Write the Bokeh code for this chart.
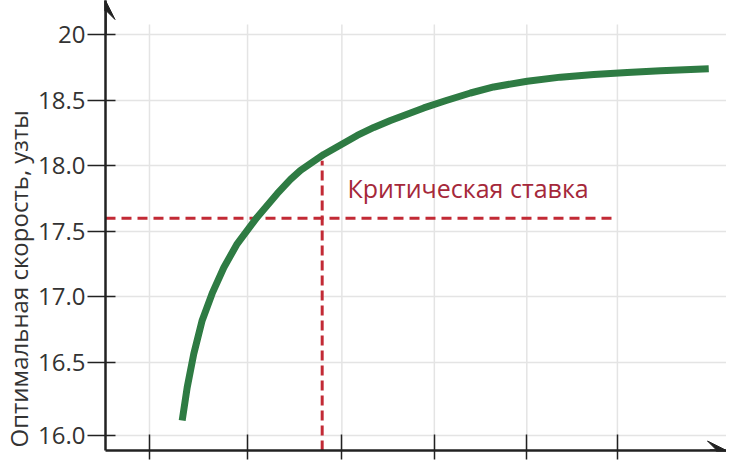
from bokeh.plotting import figure
from bokeh.models import Range1d, FixedTicker, Arrow, VeeHead, Label, Title
from bokeh.embed import file_html
from bokeh.resources import INLINE

# ---- data ----
speed_x = [1.350, 1.404, 1.474, 1.564, 1.671, 1.796, 1.939, 2.153, 2.367, 2.510, 2.617, 2.866,
           3.045, 3.224, 3.402, 3.580, 3.759, 3.937, 4.169, 4.437, 4.686, 5.044, 5.400, 5.757,
           6.115, 6.471, 6.988]
speed_y = [16.057, 16.311, 16.566, 16.821, 17.027, 17.225, 17.406, 17.609, 17.788, 17.897, 17.966, 18.088,
           18.160, 18.233, 18.294, 18.347, 18.395, 18.443, 18.498, 18.557, 18.603, 18.647, 18.678, 18.698,
           18.714, 18.727, 18.742]

y_ticks = [15.94, 16.5, 17.0, 17.5, 18.0, 18.5, 19.0]
y_tick_labels = ["16.0", "16.5", "17.0", "17.5", "18.0", "18.5", "20"]
x_ticks = [1.0, 2.05, 3.06, 4.05, 5.04, 6.01]

crit_speed = 17.6
crit_x = 2.849
crit_top = 18.04
crit_line_end = 5.97
crit_label = "Критическая ставка"
crit_label_x = 3.12
crit_label_y = 17.828
y_title = "Оптимальная скорость, узты"

X0, X1 = 0.529, 7.178
Y0, Y1 = 15.828, 19.263
grid_top = 19.08

AXIS = "#222222"
TEXT = "#333333"
GRID = "#e4e4e4"
RED = "#c22a35"
GREEN = "#2e7b43"
FONT = "Open Sans"

p = figure(width=726, height=460, x_range=Range1d(X0, X1), y_range=Range1d(Y0, Y1),
           output_backend="svg", toolbar_location=None,
           min_border_left=105, min_border_right=0, min_border_top=0, min_border_bottom=10)
p.outline_line_color = None
p.background_fill_color = "white"

# y axis
p.yaxis.ticker = FixedTicker(ticks=y_ticks)
p.yaxis.major_label_overrides = {t: l for t, l in zip(y_ticks, y_tick_labels)}
p.yaxis.major_tick_in = 10
p.yaxis.major_tick_out = 18
p.yaxis.minor_tick_line_color = None
p.yaxis.axis_line_color = AXIS
p.yaxis.axis_line_width = 2.5
p.yaxis.major_tick_line_color = AXIS
p.yaxis.major_tick_line_width = 1.5
p.yaxis.major_label_text_font = FONT
p.yaxis.major_label_text_font_size = "24px"
p.yaxis.major_label_text_color = TEXT
p.yaxis.major_label_standoff = 2

# y title, anchored near the bottom like the reference
p.add_layout(Title(text=y_title, align="left", offset=3, text_font=FONT,
                   text_font_size="24px", text_font_style="normal", text_color=TEXT,
                   vertical_align="middle", standoff=0), "left")

# x axis (no labels)
p.xaxis.ticker = FixedTicker(ticks=x_ticks)
p.xaxis.major_label_text_font_size = "0px"
p.xaxis.major_label_standoff = 0
p.xaxis.major_tick_in = 16
p.xaxis.major_tick_out = 9
p.xaxis.minor_tick_line_color = None
p.xaxis.axis_line_color = AXIS
p.xaxis.axis_line_width = 2.5
p.xaxis.major_tick_line_color = AXIS
p.xaxis.major_tick_line_width = 1.5

# grid
p.xgrid.visible = False
p.ygrid.ticker = FixedTicker(ticks=y_ticks)
p.ygrid.grid_line_color = GRID
p.ygrid.grid_line_width = 1.5
p.segment(x0=x_ticks, x1=x_ticks, y0=[Y0] * len(x_ticks), y1=[grid_top] * len(x_ticks),
          line_color=GRID, line_width=1.5)

# critical rate
p.line([X0, crit_line_end], [crit_speed, crit_speed], line_color=RED, line_width=3, line_dash="10 6")
p.line([crit_x, crit_x], [Y0, crit_top], line_color=RED, line_width=3, line_dash="10 5")

# curve
p.line(speed_x, speed_y, line_color=GREEN, line_width=7, line_cap="butt", line_join="round")

p.add_layout(Label(x=crit_label_x, y=crit_label_y, text=crit_label, text_font=FONT,
                   text_font_size="25px", text_color="#a5283a", text_baseline="alphabetic"))

# axis arrows
p.add_layout(Arrow(end=VeeHead(size=19, fill_color=AXIS, line_color=AXIS),
                   x_start=X0, y_start=19.0, x_end=X0, y_end=Y1,
                   line_color=AXIS, line_width=2.5))
p.add_layout(Arrow(end=VeeHead(size=19, fill_color=AXIS, line_color=AXIS),
                   x_start=7.0, y_start=Y0, x_end=X1, y_end=Y0,
                   line_color=AXIS, line_width=2.5))

open("out.html", "w").write(file_html(p, INLINE))
